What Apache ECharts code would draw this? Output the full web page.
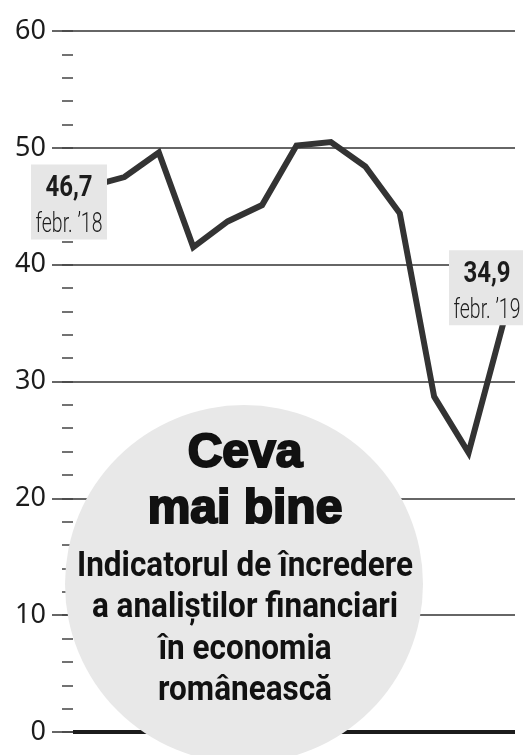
<!DOCTYPE html>
<html>
<head>
<meta charset="utf-8">
<script src="https://cdn.jsdelivr.net/npm/echarts@6/dist/echarts.min.js"></script>
<style>
  html, body { margin: 0; padding: 0; background: #fff; }
  #chart { width: 523px; height: 755px; }
</style>
</head>
<body>
<div id="chart"></div>
<script>
// feb. 2018 .. feb. 2019
const months = ['feb18', 'mar18', 'apr18', 'mai18', 'iun18', 'iul18', 'aug18',
                'sep18', 'oct18', 'nov18', 'dec18', 'ian19', 'feb19'];
const values = [46.7, 47.5, 49.6, 41.5, 43.7, 45.1, 50.2, 50.5, 48.4, 44.4, 28.7, 23.9, 34.9];
const firstLabel = ['46,7', 'febr. \u201918'];
const lastLabel = ['34,9', 'febr. \u201919'];
const titleLines = ['Ceva', 'mai bine'];
const subtitleLines = ['Indicatorul de \u00eencredere', 'a anali\u0219tilor financiari',
                       '\u00een economia', 'rom\u00e2neasc\u0103'];

const ink = '#1c1c1c';
const lineColor = '#333333';
const condensed = '"Roboto", "Liberation Sans", sans-serif';

const chart = echarts.init(document.getElementById('chart'));

const option = {
    animation: false,
    backgroundColor: '#ffffff',
    grid: [
        { left: 52, right: 8, top: 31, bottom: 23 },   // labels + grid lines
        { left: 73, right: 8, top: 31, bottom: 23 },   // minor ticks
        { left: 90, right: 20, top: 31, bottom: 23 }   // the line
    ],
    xAxis: [
        { gridIndex: 0, type: 'value', show: false },
        { gridIndex: 1, type: 'value', show: false },
        { gridIndex: 2, type: 'category', data: months, boundaryGap: false, show: false }
    ],
    yAxis: [
        {
            gridIndex: 0, type: 'value', min: 0, max: 60, interval: 10,
            axisLine: { show: false }, axisTick: { show: false },
            axisLabel: { color: ink, fontSize: 27, fontFamily: '"Noto Sans", sans-serif', margin: 6 },
            splitLine: { lineStyle: { color: '#333', width: 1.5 } }
        },
        {
            gridIndex: 1, type: 'value', min: 0, max: 60, interval: 2,
            axisLine: { show: false },
            axisTick: { show: true, length: 11, lineStyle: { color: '#444', width: 1.5 } },
            axisLabel: { show: false }, splitLine: { show: false }
        },
        { gridIndex: 2, type: 'value', min: 0, max: 60, show: false }
    ],
    series: [
        {
            type: 'line',
            xAxisIndex: 2,
            yAxisIndex: 2,
            data: values,
            symbol: 'none',
            lineStyle: { color: lineColor, width: 6, join: 'miter' },
            z: 3
        }
    ]
};

chart.setOption(option);

function textEl(txt, x, y, font, scaleX, z) {
    return {
        type: 'text', x: x, y: y, scaleX: scaleX, z: z,
        style: { text: txt, font: font, fill: ink,
                 textAlign: 'center', textVerticalAlign: 'middle', align: 'center', verticalAlign: 'middle' }
    };
}

function labelBox(pt, dx, dy, lines) {
    const x0 = pt[0] + dx, y0 = pt[1] + dy;
    return [
        { type: 'rect', z: 50, shape: { x: x0, y: y0, width: 76, height: 75 }, style: { fill: '#e6e6e6' } },
        textEl(lines[0], x0 + 38, y0 + 24, 'bold 30px ' + condensed, 0.8, 51),
        textEl(lines[1], x0 + 38, y0 + 61, '300 27px ' + condensed, 0.72, 51)
    ];
}

const p0 = chart.convertToPixel({ seriesIndex: 0 }, [0, values[0]]);
const pN = chart.convertToPixel({ seriesIndex: 0 }, [values.length - 1, values[values.length - 1]]);
const yZero = chart.convertToPixel({ seriesIndex: 0 }, [0, 0])[1];

let graphics = [
    // thick baseline at 0, under the circle
    { type: 'line', z: 30, shape: { x1: 73, y1: yZero, x2: 515, y2: yZero }, style: { stroke: ink, lineWidth: 4 } },
    { type: 'circle', z: 40, shape: { cx: 244, cy: 584, r: 179 }, style: { fill: '#e8e8e8' } }
];
graphics = graphics.concat(labelBox(p0, -59, -22, firstLabel), labelBox(pN, -54, -74, lastLabel));

const titleFont = 'bold 48px "Liberation Sans", Arial, sans-serif';
const titleY = [454, 510];
titleLines.forEach(function (t, i) {
    const el = textEl(t, 245, titleY[i], titleFont, 1, 60);
    el.style.fill = '#111';
    el.style.stroke = '#111';
    el.style.lineWidth = 2.2;
    graphics.push(el);
});
const subY = [567, 608, 650, 691];
subtitleLines.forEach(function (s, i) {
    const el = textEl(s, 245, subY[i], 'bold 35px ' + condensed, 0.9, 60);
    el.style.fill = '#111';
    graphics.push(el);
});

chart.setOption({ graphic: { zlevel: 1, elements: graphics } });

window.addEventListener('resize', function () {
    chart.resize();
});
</script>
</body>
</html>
